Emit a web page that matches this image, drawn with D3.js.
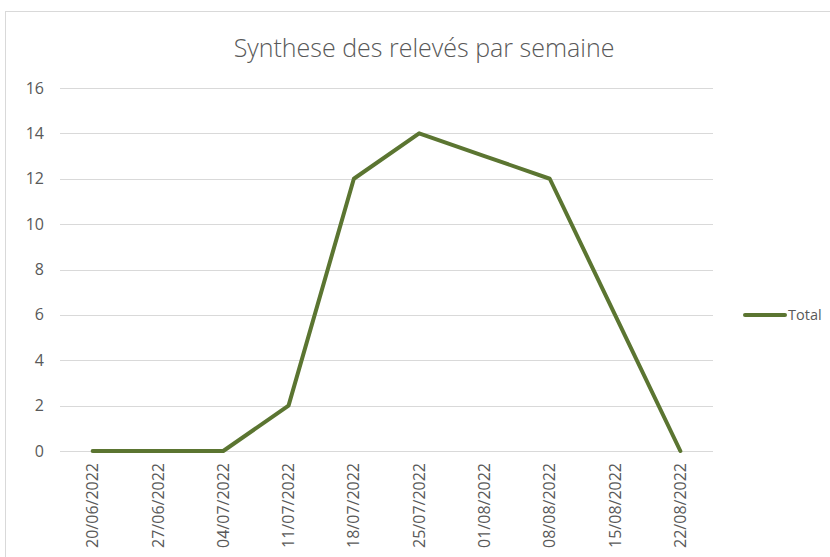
<!DOCTYPE html>
<html>
<head>
<meta charset="utf-8">
<script src="https://cdn.jsdelivr.net/npm/d3@7"></script>
<style>
  body { margin: 0; background: #fff; }
  svg { display: block; font-family: "Open Sans", "Noto Sans", sans-serif; }
</style>
</head>
<body>
<svg id="chart" width="830" height="557"></svg>
<script>
// data
const weeks = ["20/06/2022", "27/06/2022", "04/07/2022", "11/07/2022", "18/07/2022",
               "25/07/2022", "01/08/2022", "08/08/2022", "15/08/2022", "22/08/2022"]
const totals = [0, 0, 0, 2, 12, 14, 13, 12, 6, 0]
const yTicks = [0, 2, 4, 6, 8, 10, 12, 14, 16]
const seriesName = "Total"
const title = "Synthese des relevés par semaine"

const lineColor = "#5b7531"
const textColor = "#595959"

const svg = d3.select('#chart')

// outer chart frame
svg.append("rect")
  .attr("x", 5.5).attr("y", 11.5)
  .attr("width", 840).attr("height", 560)
  .attr("fill", "#fff")
  .attr("stroke", "#d9d9d9")
  .attr("stroke-width", 1)

// plot area
const plot = {left: 60, right: 713, top: 88, bottom: 451}

const x = d3.scaleBand().domain(weeks).range([plot.left, plot.right])
const y = d3.scaleLinear().domain([0, 16]).range([plot.bottom, plot.top])

// gridlines
svg.append("g")
  .selectAll("line")
  .data(yTicks)
  .join("line")
  .attr("x1", plot.left).attr("x2", plot.right)
  .attr("y1", d => Math.round(y(d)) + 0.5)
  .attr("y2", d => Math.round(y(d)) + 0.5)
  .attr("stroke", "#d9d9d9")
  .attr("stroke-width", 1)

// y labels
svg.append("g")
  .selectAll("text")
  .data(yTicks)
  .join("text")
  .attr("x", 44)
  .attr("y", d => y(d))
  .attr("dy", "0.35em")
  .attr("text-anchor", "end")
  .attr("fill", textColor)
  .style("font-size", "16px")
  .text(d => d)

// x labels, rotated
svg.append("g")
  .selectAll("text")
  .data(weeks)
  .join("text")
  .attr("transform", d => `translate(${x(d) + x.bandwidth() / 2}, 463) rotate(-90)`)
  .attr("dy", "0.35em")
  .attr("text-anchor", "end")
  .attr("fill", textColor)
  .style("font-size", "16px")
  .text(d => d)

// the line
svg.append("path")
  .datum(totals)
  .attr("fill", "none")
  .attr("stroke", lineColor)
  .attr("stroke-width", 4)
  .attr("stroke-linejoin", "round")
  .attr("stroke-linecap", "round")
  .attr("d", d3.line()
    .x((d, i) => x(weeks[i]) + x.bandwidth() / 2)
    .y(d => y(d)))

// title
svg.append("text")
  .attr("x", 424)
  .attr("y", 57)
  .attr("text-anchor", "middle")
  .attr("fill", textColor)
  .style("font-size", "25px")
  .style("font-weight", 300)
  .text(title)

// legend
const legend = svg.append("g").attr("transform", "translate(745, 315)")
legend.append("line")
  .attr("x1", 0).attr("x2", 40)
  .attr("stroke", lineColor)
  .attr("stroke-width", 4)
  .attr("stroke-linecap", "round")
legend.append("text")
  .attr("x", 43)
  .attr("dy", "0.35em")
  .attr("fill", textColor)
  .style("font-size", "14.5px")
  .text(seriesName)
</script>
</body>
</html>
